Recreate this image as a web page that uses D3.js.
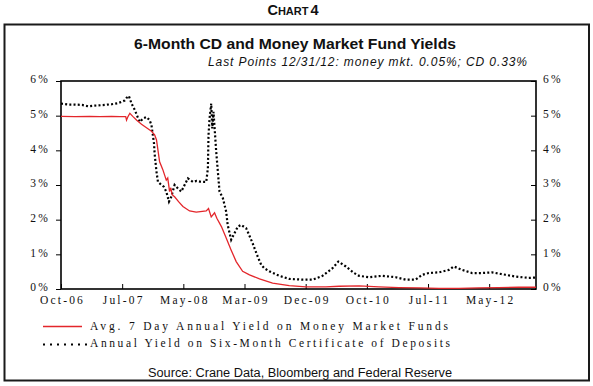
<!DOCTYPE html>
<html><head><meta charset="utf-8">
<script src="https://cdn.jsdelivr.net/npm/d3@7"></script>
<style>
body{margin:0;background:#fff;} svg{display:block}
</style>
</head><body>
<svg id="c" width="593" height="386"></svg>
<script>
// ---- Data ----
const mmfDates = ["2006-10-01","2006-12-07","2007-02-15","2007-04-06","2007-06-01","2007-07-11","2007-08-08","2007-08-12","2007-08-18","2007-08-28","2007-09-11","2007-09-30","2007-10-23","2007-11-16","2007-12-10","2007-12-25","2008-01-03","2008-01-18","2008-02-02","2008-02-19","2008-02-26","2008-03-06","2008-03-12","2008-03-18","2008-03-30","2008-04-18","2008-05-09","2008-06-10","2008-07-12","2008-08-29","2008-09-09","2008-09-22","2008-10-08","2008-10-19","2008-11-10","2008-12-03","2008-12-27","2009-01-20","2009-02-20","2009-03-25","2009-05-12","2009-07-14","2009-10-02","2009-12-21","2010-03-27","2010-05-30","2010-09-03","2010-12-07","2011-03-13","2011-06-17","2011-09-22","2011-12-26","2012-03-31","2012-07-04","2012-10-08","2012-12-31"];
const mmfValues = [4.98,4.97,4.98,4.97,4.98,4.97,4.97,4.87,4.96,5.07,4.98,4.87,4.75,4.65,4.55,4.45,4.30,3.67,3.45,3.14,3.20,2.81,2.92,2.72,2.66,2.52,2.38,2.25,2.22,2.25,2.32,2.08,2.20,2.04,1.80,1.47,1.12,0.79,0.51,0.41,0.29,0.17,0.10,0.06,0.06,0.08,0.09,0.06,0.04,0.03,0.02,0.02,0.03,0.04,0.05,0.05];

const cdDates = ["2006-10-01","2006-11-04","2006-12-07","2007-01-10","2007-02-09","2007-03-13","2007-04-30","2007-06-02","2007-07-01","2007-07-19","2007-08-04","2007-08-13","2007-08-23","2007-09-05","2007-09-21","2007-10-05","2007-10-15","2007-10-30","2007-11-16","2007-12-01","2007-12-10","2007-12-22","2007-12-25","2008-01-03","2008-01-10","2008-01-27","2008-02-07","2008-02-19","2008-03-03","2008-03-14","2008-03-30","2008-04-15","2008-05-01","2008-05-17","2008-06-02","2008-06-26","2008-07-14","2008-08-05","2008-08-29","2008-09-06","2008-09-09","2008-09-14","2008-09-22","2008-09-27","2008-10-03","2008-10-16","2008-10-24","2008-11-01","2008-11-17","2008-12-03","2008-12-10","2008-12-27","2009-01-12","2009-01-28","2009-02-13","2009-03-09","2009-03-16","2009-04-09","2009-05-03","2009-05-20","2009-06-04","2009-06-28","2009-08-15","2009-10-02","2009-12-05","2010-01-22","2010-03-11","2010-04-28","2010-05-26","2010-07-01","2010-08-10","2010-09-03","2010-10-21","2010-12-23","2011-02-26","2011-04-14","2011-06-01","2011-07-03","2011-08-04","2011-09-21","2011-11-08","2011-12-02","2012-01-11","2012-02-28","2012-04-15","2012-06-02","2012-08-06","2012-09-23","2012-11-25","2012-12-31"];
const cdValues = [5.35,5.32,5.32,5.31,5.27,5.29,5.31,5.33,5.36,5.40,5.44,5.52,5.57,5.35,5.16,4.95,4.82,4.92,4.96,4.87,4.72,4.20,3.90,3.38,3.09,3.00,2.95,2.81,2.52,2.66,3.00,2.90,2.81,3.00,3.19,3.09,3.12,3.09,3.09,3.48,4.44,4.92,5.35,4.63,5.11,3.96,3.38,2.81,2.62,2.23,1.85,1.42,1.61,1.80,1.85,1.75,1.66,1.32,0.94,0.70,0.60,0.51,0.38,0.29,0.27,0.27,0.38,0.60,0.79,0.65,0.46,0.38,0.34,0.38,0.34,0.27,0.27,0.41,0.46,0.48,0.55,0.65,0.55,0.46,0.46,0.48,0.41,0.36,0.32,0.33];

const yTicks = [0,1,2,3,4,5,6];
const yTickLabels = ["0%","1%","2%","3%","4%","5%","6%"];
const xTickDates = ["2006-10-01","2007-07-22","2008-05-11","2009-03-01","2009-12-20","2010-10-10","2011-07-31","2012-05-20"];
const xTickLabels = ["Oct-06","Jul-07","May-08","Mar-09","Dec-09","Oct-10","Jul-11","May-12"];
const xDomain = ["2006-10-01","2012-12-31"];

const seriesNames = ["Avg. 7 Day Annual Yield on Money Market Funds","Annual Yield on Six-Month Certificate of Deposits"];
const chartLabel = "Chart 4";
const titleText = "6-Month CD and Money Market Fund Yields";
const subtitleText = "Last Points 12/31/12: money mkt. 0.05%; CD 0.33%";
const sourceText = "Source: Crane Data, Bloomberg and Federal Reserve";

// ---- Drawing ----
const SERIF = '"Liberation Serif"';
const SANS = '"Liberation Sans"';
const parse = d3.utcParse("%Y-%m-%d");
const svg = d3.select("#c");
const L = 61, R = 536, T = 81, B = 289;
const red = "#e3262b";

const x = d3.scaleUtc().domain(xDomain.map(parse)).range([L, R]);
const y = d3.scaleLinear().domain([0, 6]).range([B, T]);

// outer box
svg.append("rect").attr("x", 4.5).attr("y", 24.5).attr("width", 584.5).attr("height", 356)
  .attr("fill", "none").attr("stroke", "#1a1a1a").attr("stroke-width", 2);

// Chart 4 label (small caps)
const cl = svg.append("text").style("font-family", SANS).attr("x", 293).attr("y", 15).attr("text-anchor", "middle")
  .attr("font-weight", "bold").attr("fill", "#111");
cl.append("tspan").attr("font-size", 14.5).text(chartLabel[0].toUpperCase());
cl.append("tspan").attr("font-size", 11).text(chartLabel.slice(1, 5).toUpperCase());
cl.append("tspan").attr("font-size", 14.5).attr("dx", 2).text(chartLabel.slice(6));

// title
svg.append("text").style("font-family", SANS).attr("x", 295).attr("y", 49).attr("text-anchor", "middle")
  .attr("font-weight", "bold")
  .attr("font-size", 15.5).attr("fill", "#111").attr("textLength", 322).attr("lengthAdjust", "spacingAndGlyphs")
  .text(titleText);
svg.append("text").style("font-family", SANS).attr("x", 208).attr("y", 65.5)
  .attr("font-style", "italic")
  .attr("font-size", 12).attr("fill", "#111").attr("textLength", 319).attr("lengthAdjust", "spacing")
  .text(subtitleText);

// left axis
const gl = svg.append("g").attr("transform", `translate(${L},0)`)
  .call(d3.axisLeft(y).tickValues(yTicks).tickFormat((d, i) => yTickLabels[i]).tickSize(5).tickSizeOuter(0).tickPadding(6));
// right axis (ticks inward)
const gr = svg.append("g").attr("transform", `translate(${R},0)`)
  .call(d3.axisRight(y).tickValues(yTicks).tickFormat((d, i) => yTickLabels[i]).tickSize(0).tickSizeOuter(0).tickPadding(7));
gr.selectAll(".tick").append("line").attr("x1", -5).attr("x2", 0).attr("stroke", "#000");
// bottom axis (ticks inward)
const gb = svg.append("g").attr("transform", `translate(0,${B})`)
  .call(d3.axisBottom(x).tickValues(xTickDates.map(parse)).tickFormat((d, i) => xTickLabels[i]).tickSize(-5).tickSizeOuter(0).tickPadding(5));
gb.selectAll(".tick line").attr("stroke", "#000");

[gl, gr, gb].forEach(g => {
  g.attr("font-family", null).attr("font-size", null);
  g.select(".domain").remove();
  g.selectAll("text").style("font-family", SERIF).attr("font-size", 11.5).attr("fill", "#111")
    .attr("letter-spacing", "2.2px");
});
gl.selectAll("text").attr("dy", "0.15em");
gr.selectAll("text").attr("dy", "0.15em");
gb.selectAll("text").attr("dy", "0.9em").attr("dx", "1px");

// plot frame
svg.append("rect").attr("x", L).attr("y", T).attr("width", R - L).attr("height", B - T)
  .attr("fill", "none").attr("stroke", "#000").attr("stroke-width", 1.6);

// lines
const line = d3.line().x(d => x(d[0])).y(d => y(d[1]));
const mmf = mmfDates.map((d, i) => [parse(d), mmfValues[i]]);
const cd = cdDates.map((d, i) => [parse(d), cdValues[i]]);

svg.append("path").datum(cd).attr("d", line).attr("fill", "none").attr("stroke", "#000")
  .attr("stroke-width", 2.2).attr("stroke-dasharray", "2,2.2");
svg.append("path").datum(mmf).attr("d", line).attr("fill", "none").attr("stroke", red)
  .attr("stroke-width", 1.3);

// legend
const lg = svg.append("g");
lg.append("line").attr("x1", 43).attr("x2", 82).attr("y1", 326.5).attr("y2", 326.5)
  .attr("stroke", red).attr("stroke-width", 1.3);
lg.append("line").attr("x1", 43).attr("x2", 87).attr("y1", 344.5).attr("y2", 344.5)
  .attr("stroke", "#000").attr("stroke-width", 2).attr("stroke-dasharray", "2,5");
lg.append("text").style("font-family", SERIF).attr("x", 90).attr("y", 329.5).attr("font-size", 11.5)
  .attr("fill", "#111").attr("textLength", 358).attr("lengthAdjust", "spacing").text(seriesNames[0]);
lg.append("text").style("font-family", SERIF).attr("x", 90).attr("y", 346.5).attr("font-size", 11.5)
  .attr("fill", "#111").attr("textLength", 360).attr("lengthAdjust", "spacing").text(seriesNames[1]);

// source
svg.append("text").style("font-family", SANS).attr("x", 148).attr("y", 377)
  .attr("font-size", 12).attr("fill", "#111").attr("textLength", 304).attr("lengthAdjust", "spacingAndGlyphs")
  .text(sourceText);
</script>
</body></html>
